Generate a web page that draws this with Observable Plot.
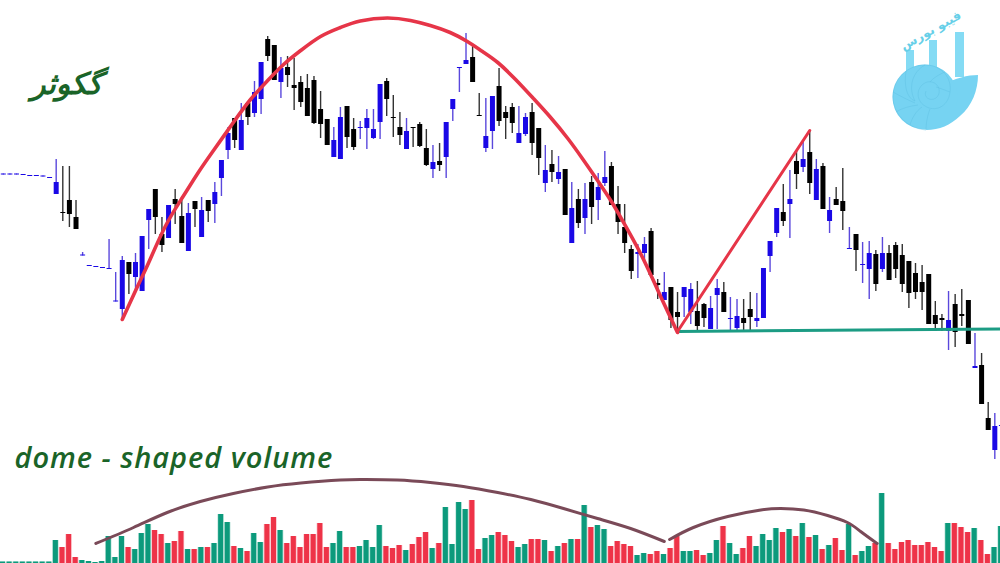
<!DOCTYPE html>
<html>
<head>
<meta charset="utf-8">
<style>html,body{margin:0;padding:0;background:#fff;overflow:hidden}svg{display:block}</style>
<script src="https://cdn.jsdelivr.net/npm/d3@7"></script>
<script src="https://cdn.jsdelivr.net/npm/@observablehq/plot@0.6"></script>
</head>
<body>
<div id="chart"></div>
<script>
// b = rising session (blue candle, teal volume), k = falling session (black candle, red volume)
const direction = ("bbbbbbbbbk"+"kkbbbbbbbk"+"bbbkkbkkbk"+"bkbbbkbkbb"+"kkbkkkkkkk"+"bbkkbbbbkk"+"kbkkkbkbbb"+"bkkbbkkkbb"+
  "kkbkbkbkbk"+"bbkkkkbbkk"+"bkkbbkkbbk"+"bbkkbbbbkb"+"kbkbkbkkbk"+"bbkbkkkkkk"+"kkkbkkkbkk"+"bb").split("");

const highs = [389.5,389.5,389.5,389,388,388,387.5,386,404,397,
397,363,311,298,297,296,324,291,307,301,
310,327,354,374,346,358,374,367,360,362,
366,363,381,403,436,445,460,460,482,501,
527,518,506,507,505,487,489,487,472,444,
436,456,457,445,442,454,454,479,485,468,
451,445,436,441,434,418,420,441,464,496,
530,518,470,465,467,495,457,460,457,450,
460,435,418,413,407,394,381,374,380,387,
390,412,401,377,359,318,319,326,335,284,
291,276,271,276,280,282,260,267,284,281,
266,264,264,271,270,295,322,355,379,393,
412,422,433,404,400,366,376,395,336,329,
321,322,313,326,318,321,319,302,300,298,
289,262,249,272,269,274,263,230,210,161,
150,163];

const bodyTops = [389.5,389.5,389.5,389,388,388,387.5,386,381,351,
363,346,308.5,298,297,296,295,262.5,303,301,
301,327,354,374,329,358,364,347,350,362,
353,363,371,403,430,445,443,460,471,501,
524,518,495,496,478,481,475,483,454,444,
423,446,457,434,436,445,434,479,482,446,
436,432,436,439,415,401,402,441,464,496,
503,506,448,427,467,477,451,456,430,446,
451,435,393,399,391,394,355,364,364,381,
376,386,397,359,336,314,311,319,332,280,
271,276,251,276,274,252,259,255,275,271,
245,247,245,254,245,295,322,355,351,364,
402,404,411,394,397,353,364,362,315,329,
299,310,309,310,310,318,308,302,290,281,
289,248,245,243,259,249,263,197,198,145,
137,138];

const bodyBottoms = [388.5,388.5,388.5,388,387,387,386.5,385,369,350,
349,334,307.5,297,296,295,294,261.5,254,289,
286,272,343,346,318,325,359,320,312,354,
326,352,359,385,413,423,413,446,450,464,
507,483,481,488,475,461,447,440,439,418,
406,404,426,416,435,435,425,441,464,445,
428,414,435,417,398,394,398,406,454,495,
499,481,447,415,432,442,445,440,420,429,
420,405,380,391,384,348,320,340,345,356,
363,380,358,341,320,292,309,310,288,278,
263,243,246,266,251,237,245,234,268,251,
244,235,240,246,242,245,307,330,342,359,
389,396,380,363,354,342,358,352,314,313,
298,294,279,294,283,294,279,270,271,271,
239,239,243,232,231,247,219,195,159,133,
113,137];

const lows = [388.5,388.5,388.5,388,387,387,386.5,385,369,342,
336,334,307.5,297,296,295,294,261.5,244,269,
273,272,314,329,311,325,339,320,312,336,
326,341,340,367,404,415,413,438,446,449,
502,483,465,476,453,456,447,439,425,418,
406,404,415,413,424,414,424,424,447,426,
418,414,416,416,397,385,392,385,442,471,
499,481,447,411,414,437,424,430,420,427,
408,388,371,381,379,348,320,335,329,339,
343,377,358,329,310,284,285,303,285,264,
263,235,231,246,239,231,236,234,234,251,
232,233,233,231,236,245,291,326,337,325,
374,391,369,363,354,330,358,333,314,292,
280,264,272,291,283,285,271,255,264,253,
239,232,232,213,216,237,219,195,159,133,
104,137];

const volumes = [1.5,1.5,1.5,1.5,1.5,1.5,1.5,1.5,23,16,
29,6,3,2,1,2,27,6,27,16,
14,30,39,33,29,20,22,32,14,14,
16,16,20,49,41,17,15,12,30,21,
39,46,33,20,27,16,29,29,40,16,
20,32,16,16,17,23,16,38,17,15,
18,13,19,26,31,15,20,56,19,61,
54,63,14,25,28,31,28,22,16,19,
24,24,23,12,17,20,24,24,58,36,
38,34,17,22,19,17,8,10,9,12,
9,15,27,12,12,13,8,10,23,37,
20,9,15,27,17,29,23,35,31,34,
27,40,26,28,14,18,25,13,39,8,
12,17,20,70,20,14,21,23,18,18,
21,16,12,40,40,36,31,35,23,9,
16,37];

const priceDomeX = [18,20.3,22,24.5,27.1,29.5,31.8,34.8,37.4,40,42.4,45,48,51,54,58.1,61.6,64.6,67.6,70.2,72.5,74.8,77.5,80.2,82.8,85.4,87.6,89.9,91.9,93.4,96.4,99.1,102];
const priceDomeY = [244,277,301,337,366,391,413,441,464,483,499,513,527,536,542.5,545.5,543,538,531,522,512,501,484,465,446,425,405,383,363,346,310,272,231];
const riseX = [102,122], riseY = [232,433];
const supportX = [102,150.86], supportY = [232,234.5];
const volDome1X = [14,19.7,24.8,29.8,34.8,40,45,51,54.5,59.6,64.6,69.6,74.8,79.8,84.75,89.9,94.9,100];
const volDome1Y = [20,36,51,62,70,76.5,80.5,83.5,84,83.5,81,77,71,64,55,45,35,22];
const volDome2X = [100.8,104.4,109.6,114.6,117.6,121.1,124.7,127.7,129.7,132.2];
const volDome2Y = [24,36,47,53.5,55,53.5,48,41,32,20];

const BLUE = "#1a08e6", BLUE_WICK = "#5a48dc", BLACK = "#000", BLACK_WICK = "#333";
const TEAL = "#0c9a7c", RED = "#ee3348", DOME = "#e63548";

const idx = d3.range(highs.length);
const up = i => direction[i] === "b";
const pts = (xs, ys) => xs.map((x, i) => ({x, y: ys[i]}));

function logo() {
  const ns = "http://www.w3.org/2000/svg";
  const g = document.createElementNS(ns, "g");
  g.innerHTML = `
    <g fill="#84dbf4">
      <rect x="906" y="50" width="8" height="30"/>
      <rect x="929" y="40" width="8" height="35"/>
      <rect x="955" y="32" width="9" height="45"/>
    </g>
    <path d="M943 85 C955 78 968 75 978 75 C978 90 972 106 960 116 C950 125 940 130 926 130 Z" fill="#76d3f2"/>
    <circle cx="925" cy="97" r="32.5" fill="#76d3f2"/>
    <g fill="none" stroke="#5cbfe0" stroke-width="0.5" stroke-opacity="0.8">
      <path d="M926 130 C905 128 893 112 893 97 C893 78 908 65 925 65 C942 65 952 78 950 92 C948 108 934 112 925 106 C915 100 916 86 927 82 C938 80 943 92 936 98 C930 102 923 97 926 91"/>
      <path d="M925 65 C912 72 908 88 915 101"/>
      <path d="M906 71 C904 84 906 98 915 101"/>
      <path d="M893 92 C900 96 908 100 915 103"/>
      <path d="M896 112 C902 108 910 106 918 105"/>
      <path d="M910 125 C912 118 916 111 922 107"/>
      <path d="M926 130 C926 122 928 114 930 109"/>
      <path d="M945 72 C940 74 933 78 930 82"/>
      <path d="M950 92 C944 90 940 88 936 87"/>
    </g>
    <text transform="translate(931,31) rotate(-29)" text-anchor="middle" dominant-baseline="middle" font-family="DejaVu Sans" font-weight="700" font-size="12.5" fill="#66cfe8">فیبو بورس</text>`;
  return g;
}

const chart = Plot.plot({
  width: 1000, height: 563,
  marginTop: 0, marginRight: 0, marginBottom: 0, marginLeft: 0,
  style: {background: "#fff"},
  x: {axis: null, domain: [-0.424, 150.86], range: [0, 1000]},
  y: {axis: null, domain: [0, 563], range: [563, 0]},
  marks: [
    // volume
    Plot.ruleX(idx, {x: i => i, y1: 0, y2: i => volumes[i], dx: -0.8, strokeWidth: 6.4, stroke: i => up(i) ? TEAL : RED, strokeOpacity: 0.3}),
    Plot.ruleX(idx, {x: i => i, y1: 0, y2: i => volumes[i], dx: -0.8, strokeWidth: 5, stroke: i => up(i) ? TEAL : RED}),
    // wicks and bodies
    Plot.ruleX(idx, {x: i => i, y1: i => lows[i], y2: i => highs[i], strokeWidth: 1.4, stroke: i => up(i) ? BLUE_WICK : BLACK_WICK}),
    Plot.ruleX(idx, {x: i => i, y1: i => bodyBottoms[i], y2: i => bodyTops[i], strokeWidth: 5, stroke: i => up(i) ? BLUE : BLACK}),
    // hand-drawn overlays
    Plot.line(pts(supportX, supportY), {x: "x", y: "y", stroke: "#1c9c84", strokeWidth: 3}),
    Plot.line(pts(priceDomeX, priceDomeY), {x: "x", y: "y", curve: "natural", stroke: DOME, strokeWidth: 3.6}),
    Plot.line(pts(riseX, riseY), {x: "x", y: "y", stroke: DOME, strokeWidth: 3}),
    Plot.line(pts(volDome1X, volDome1Y), {x: "x", y: "y", curve: "natural", stroke: "#7a4a58", strokeWidth: 3}),
    Plot.line(pts(volDome2X, volDome2Y), {x: "x", y: "y", curve: "natural", stroke: "#7a4a58", strokeWidth: 3}),
    // labels
    Plot.text(["dome - shaped volume"], {frameAnchor: "top-left", dx: 14, dy: 447, text: d => d, textAnchor: "start", fontFamily: "Open Sans", fontStyle: "italic", fontWeight: 600, fontSize: 29, fill: "#1a6428"}),
    Plot.text(["گکوثر"], {frameAnchor: "top-left", dx: 66, dy: 72, text: d => d, textAnchor: "middle", fontFamily: "DejaVu Sans", fontStyle: "italic", fontWeight: 700, fontSize: 30, fill: "#1a6428"}),
    logo
  ]
});
d3.select(chart).selectAll("text").filter(function () { return this.textContent === "dome - shaped volume"; }).style("letter-spacing", "0.95px");
document.getElementById("chart").appendChild(chart);
</script>
</body>
</html>
